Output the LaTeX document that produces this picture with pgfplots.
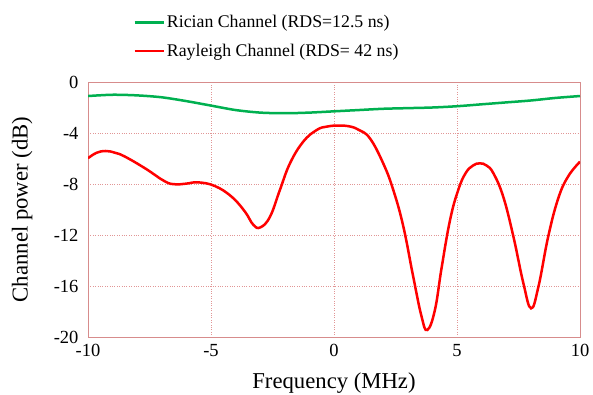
\documentclass[border=0pt]{standalone}
\usepackage{pgfplots}
\pgfplotsset{compat=1.18}
\usepackage{fontspec}
\setmainfont{Liberation Serif}
\definecolor{exgreen}{RGB}{0,176,80}
\definecolor{gridred}{RGB}{225,150,150}
\definecolor{framered}{RGB}{215,140,140}
\pgfplotsset{
  every x tick label/.append style={yshift=-4pt},
  every y tick label/.append style={xshift=-6pt},
}
\begin{document}
\begin{tikzpicture}
\useasboundingbox (-88pt,-57pt) rectangle (505pt,337pt);
\begin{axis}[
  at={(0,0)}, anchor=south west,
  scale only axis, width=492pt, height=255pt,
  xmin=-10, xmax=10, ymin=-20, ymax=0,
  xtick={-10,-5,0,5,10}, ytick={-20,-16,-12,-8,-4,0},
  major tick length=0pt,
  grid=major,
  major grid style={gridred, dotted, line width=0.8pt},
  axis line style={framered, line width=1pt},
  /pgf/number format/assume math mode=true,
  tick label style={font=\fontsize{18.5}{20}\selectfont, black},
  xlabel={Frequency (MHz)}, ylabel={Channel power (dB)},
  label style={font=\fontsize{22.7}{25}\selectfont},
  xlabel style={at={(axis description cs:0.5,-0.18)}, anchor=center},
  ylabel style={at={(axis description cs:-0.134,0.5)}, anchor=center},
  legend style={at={(0.092,1.085)}, anchor=south west, draw=none, fill=none,
    font=\fontsize{17.8}{20}\selectfont, row sep=11pt, inner sep=0pt,
    /tikz/every even column/.append style={column sep=1pt}},
  legend cell align=left,
  legend image code/.code={\draw[#1, line width=2.5pt] (0pt,0pt) -- (29pt,0pt);},
]
\addplot[exgreen, line width=2.5pt, smooth] coordinates {
(-10,-1.1) (-9,-1.0) (-8,-1.05) (-7,-1.2) (-6,-1.5) (-5,-1.85) (-4,-2.2) (-3,-2.4)
(-2,-2.45) (-1,-2.4) (0,-2.3) (1,-2.2) (2,-2.1) (3,-2.05) (4,-2.0) (5,-1.9)
(6,-1.75) (7,-1.6) (8,-1.45) (9,-1.25) (10,-1.1)};
\addlegendentry{Rician Channel (RDS=12.5 ns)}
\addplot[red, line width=2.5pt, smooth, tension=0.7] coordinates {
(-10,-5.98) (-9.65,-5.55) (-9.28,-5.41) (-8.9,-5.55) (-8.5,-5.85) (-7.68,-6.77)
(-6.87,-7.8) (-6.46,-8.02) (-6.0,-7.97) (-5.52,-7.87) (-4.84,-8.16) (-4.16,-9.0)
(-3.62,-10.17) (-3.28,-11.2) (-2.99,-11.4) (-2.6,-10.56) (-2.2,-8.47) (-1.79,-6.38)
(-1.25,-4.68) (-0.7,-3.76) (-0.3,-3.5) (0.11,-3.42) (0.6,-3.47) (1.0,-3.75) (1.46,-4.42)
(2.0,-6.38) (2.41,-8.47) (2.82,-11.35) (3.22,-15.27) (3.56,-18.4) (3.79,-19.45)
(4.1,-17.9) (4.38,-14.5) (4.72,-10.8) (5.05,-8.47) (5.35,-7.15) (5.65,-6.55) (5.93,-6.38)
(6.2,-6.55) (6.48,-7.16) (6.88,-9.0) (7.29,-12.1) (7.7,-15.8) (8.01,-17.75) (8.31,-16.05)
(8.71,-12.1) (9.12,-9.1) (9.52,-7.4) (10,-6.25)};
\addlegendentry{Rayleigh Channel (RDS= 42 ns)}
\end{axis}
\end{tikzpicture}
\end{document}
